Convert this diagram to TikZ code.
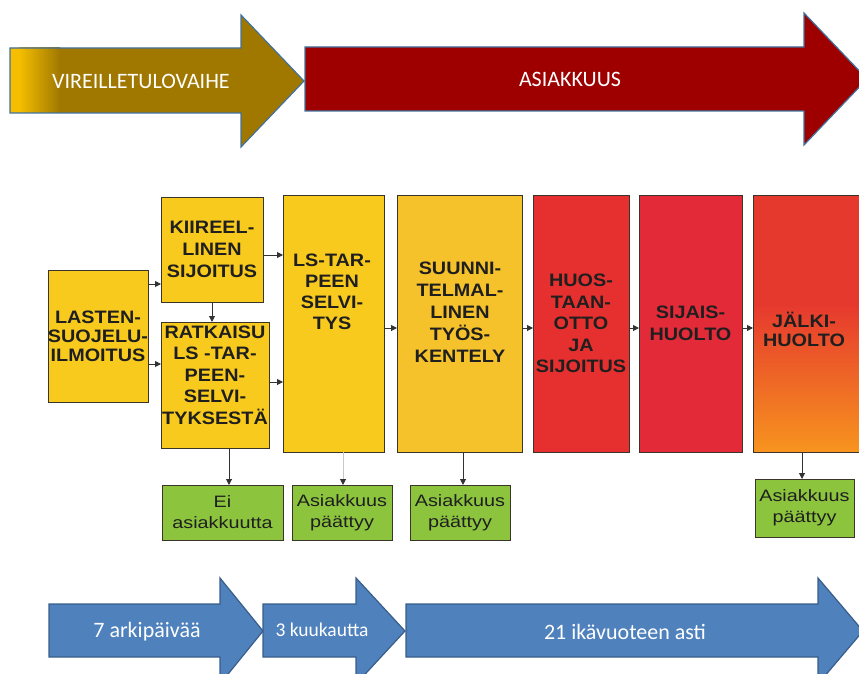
\documentclass[tikz,border=0pt]{standalone}
\usepackage{fontspec}
\setmainfont{Carlito}
\newfontfamily\boxfont[FakeStretch=1.1]{Liberation Sans}
\newfontfamily\grnfont[FakeStretch=1.2]{Liberation Sans}
\usetikzlibrary{arrows.meta}
\definecolor{ayel}{HTML}{F5BE00}
\definecolor{abrown}{HTML}{A07800}
\definecolor{ared}{HTML}{9E0000}
\definecolor{aline}{HTML}{41719C}
\definecolor{bblue}{HTML}{4F81BD}
\definecolor{bline}{HTML}{385D8A}
\definecolor{byel}{HTML}{F8CA1E}
\definecolor{byel2}{HTML}{F5C22C}
\definecolor{bred}{HTML}{E5302F}
\definecolor{bred2}{HTML}{E32A38}
\definecolor{jred}{HTML}{E6392E}
\definecolor{jorange}{HTML}{F7941E}
\definecolor{bgreen}{HTML}{8CC43E}
\definecolor{boxline}{HTML}{3A3528}
\begin{document}
\begin{tikzpicture}[x=1pt,y=-1pt,
  box/.style={draw=boxline,line width=0.6pt,inner sep=0pt,outer sep=0pt},
  btxt/.style={font=\boxfont\bfseries\fontsize{18}{21.5}\selectfont,align=center,inner sep=0pt,text=black!88},
  gtxt/.style={font=\grnfont\fontsize{16.5}{21}\selectfont,align=center,text=black!88},
  conn/.style={draw=black!80,line width=1pt,-{Triangle[length=6pt,width=6pt]}},
  atxt/.style={text=white,inner sep=0pt,font=\fontsize{22}{26}\selectfont},
  toparrow/.style={draw=aline,line width=1.2pt,line join=miter},
  botarrow/.style={fill=bblue,draw=bline,line width=1.2pt,line join=miter}]
\useasboundingbox (0,0) rectangle (859,674);
\clip (0,0) rectangle (859,674);

% ---------- top phase arrows ----------
\fill[abrown] (10,48) -- (241,48) -- (241,15) -- (304,81) -- (241,147) -- (241,113) -- (10,113) -- cycle;
\fill[ayel] (10,48) rectangle (19,113);
\shade[left color=ayel,right color=abrown] (19,48) rectangle (60,113);
\draw[toparrow] (10,48) -- (241,48) -- (241,15) -- (304,81) -- (241,147) -- (241,113) -- (10,113) -- cycle;
\path[toparrow,fill=ared] (305,47) -- (804,47) -- (804,13) -- (867,79) -- (804,145) -- (804,111) -- (305,111) -- cycle;
\node[atxt] (vireille) at (141,81) {VIREILLETULOVAIHE};
\node[atxt] (asiakkuus) at (570,79) {ASIAKKUUS};

% ---------- process boxes ----------
\node[box,btxt,fill=byel,minimum width=100pt,minimum height=132pt,font=\boxfont\bfseries\fontsize{18}{19}\selectfont] (lasten) at (98,336) {LASTEN-\\SUOJELU-\\ILMOITUS};
\node[box,btxt,fill=byel,minimum width=102pt,minimum height=105pt,font=\boxfont\bfseries\fontsize{18}{22}\selectfont] (kiir) at (212,249.5) {KIIREEL-\\LINEN\\SIJOITUS};
\node[box,fill=byel,minimum width=108pt,minimum height=126pt] (ratk) at (215,385) {};
\node[btxt] (ratkT) at (215,375) {RATKAISU\\LS -TAR-\\PEEN-\\SELVI-\\TYKSESTÄ};
\node[box,fill=byel,minimum width=101pt,minimum height=257pt] (lstar) at (333.5,323.5) {};
\node[btxt,font=\boxfont\bfseries\fontsize{18}{21}\selectfont] (lstarT) at (332,291.5) {LS-TAR-\\PEEN\\SELVI-\\TYS};
\node[box,fill=byel2,minimum width=125pt,minimum height=257pt] (suun) at (459.5,323.5) {};
\node[btxt,font=\boxfont\bfseries\fontsize{18}{22}\selectfont] (suunT) at (460,312.5) {SUUNNI-\\TELMAL-\\LINEN\\TYÖS-\\KENTELY};
\node[box,btxt,fill=bred,minimum width=96pt,minimum height=257pt] (huos) at (581,323.5) {HUOS-\\TAAN-\\OTTO\\JA\\SIJOITUS};
\node[box,btxt,fill=bred2,minimum width=103pt,minimum height=257pt,font=\boxfont\bfseries\fontsize{18}{22}\selectfont] (sij) at (690.5,323.5) {SIJAIS-\\HUOLTO};
\fill[jred] (753,195) rectangle (866,305);
\shade[top color=jred,bottom color=jorange] (753,304.5) rectangle (866,452);
\node[box,minimum width=113pt,minimum height=257pt] (jalk) at (809.5,323.5) {};
\node[btxt,font=\boxfont\bfseries\fontsize{18}{19}\selectfont] (jalkT) at (804,329) {JÄLKI-\\HUOLTO};

% ---------- outcome boxes ----------
\node[box,gtxt,fill=bgreen,minimum width=121pt,minimum height=55pt] (ei) at (222.5,512.5) {Ei\\asiakkuutta};
\node[box,gtxt,fill=bgreen,minimum width=100pt,minimum height=55pt] (ap1) at (342,512.5) {Asiakkuus\\päättyy};
\node[box,gtxt,fill=bgreen,minimum width=100pt,minimum height=55pt] (ap2) at (460,512.5) {Asiakkuus\\päättyy};
\node[box,gtxt,fill=bgreen,minimum width=99pt,minimum height=58pt] (ap3) at (804.5,508) {Asiakkuus\\päättyy};

% ---------- connectors ----------
\coordinate (yA) at (0,284);
\coordinate (yB) at (0,364);
\coordinate (yC) at (0,255);
\coordinate (yD) at (0,382);
\coordinate (yE) at (0,328);
\coordinate (xa) at (229,0);
\coordinate (xb) at (343,0);
\coordinate (xc) at (463,0);
\coordinate (xd) at (802,0);
\draw[conn] (lasten.east |- yA) -- (kiir.west |- yA);
\draw[conn] (lasten.east |- yB) -- (ratk.west |- yB);
\draw[conn] (kiir.south) -- (ratk.north -| kiir.south);
\draw[conn] (kiir.east |- yC) -- (lstar.west |- yC);
\draw[conn] (ratk.east |- yD) -- (lstar.west |- yD);
\draw[conn] (lstar.east |- yE) -- (suun.west |- yE);
\draw[conn] (suun.east |- yE) -- (huos.west |- yE);
\draw[conn] (huos.east |- yE) -- (sij.west |- yE);
\draw[conn] (sij.east |- yE) -- (jalk.west |- yE);
\draw[conn] (ratk.south -| xa) -- (ei.north -| xa);
\draw[conn,draw=black!22,-{Triangle[length=6pt,width=6pt,color=black!80]}] (lstar.south -| xb) -- (ap1.north -| xb);
\draw[conn] (suun.south -| xc) -- (ap2.north -| xc);
\draw[conn] (jalk.south -| xd) -- (ap3.north -| xd);

% ---------- bottom time arrows ----------
\path[botarrow] (49,604) -- (220,604) -- (220,578) -- (263,631) -- (220,684) -- (220,657) -- (49,657) -- cycle;
\path[botarrow] (263,604) -- (356,604) -- (356,578) -- (405,631) -- (356,684) -- (356,657) -- (263,657) -- cycle;
\path[botarrow] (406,604) -- (818,604) -- (818,578) -- (863,631) -- (818,684) -- (818,657) -- (406,657) -- cycle;
\node[atxt] (t7) at (147,632) {7 arkipäivää};
\node[atxt,font=\fontsize{19.5}{23}\selectfont] (t3) at (322,630) {3 kuukautta};
\node[atxt] (t21) at (625,632) {21 ikävuoteen asti};
\end{tikzpicture}
\end{document}
